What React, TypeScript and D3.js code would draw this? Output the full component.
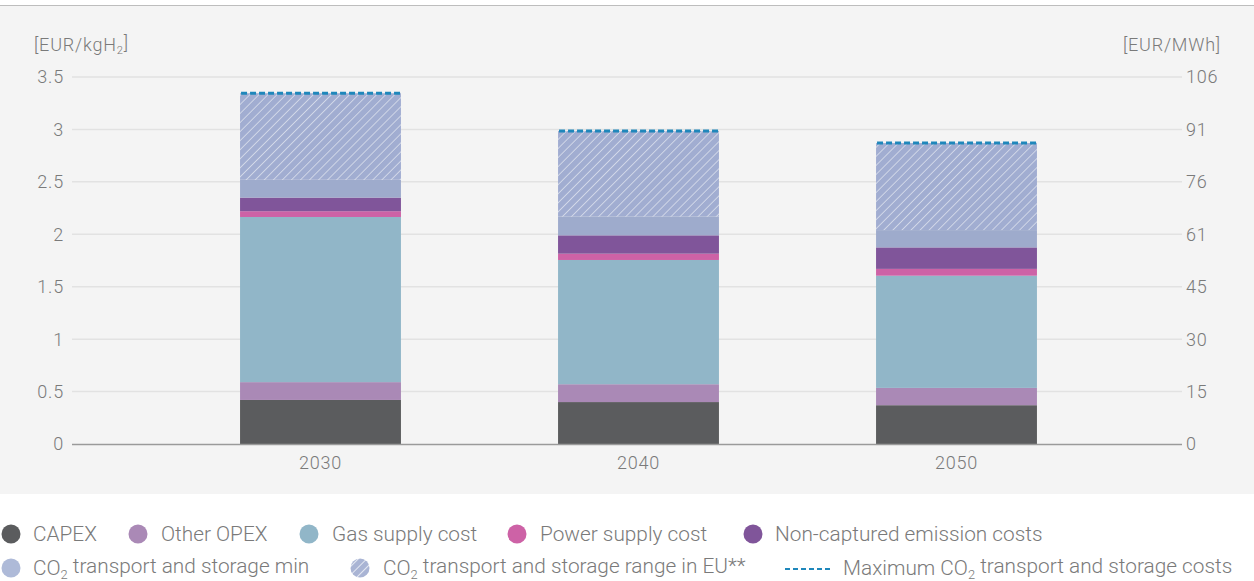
import React from 'react';
import * as d3 from 'd3';

// values in EUR/kgH2
const years = ['2030', '2040', '2050'];
const capex = [0.42, 0.40, 0.37];
const otherOpex = [0.17, 0.17, 0.165];
const gasSupply = [1.575, 1.185, 1.07];
const powerSupply = [0.055, 0.06, 0.065];
const nonCaptured = [0.13, 0.175, 0.205];
const co2Min = [0.17, 0.18, 0.165];
const co2Range = [0.825, 0.815, 0.83];

const leftTicks = [0, 0.5, 1, 1.5, 2, 2.5, 3, 3.5];
const rightTickLabels = ['0', '15', '30', '45', '61', '76', '91', '106'];

const seriesKeys = ['capex', 'otherOpex', 'gasSupply', 'powerSupply', 'nonCaptured', 'co2Min', 'co2Range'];
const seriesColors: Record<string, string> = {
  capex: '#5b5c5e',
  otherOpex: '#aa89b6',
  gasSupply: '#91b6c8',
  powerSupply: '#cd62a6',
  nonCaptured: '#80559a',
  co2Min: '#9eabcc',
  co2Range: 'url(#hatch)',
};

const rows = years.map((y, i) => ({
  year: y,
  capex: capex[i],
  otherOpex: otherOpex[i],
  gasSupply: gasSupply[i],
  powerSupply: powerSupply[i],
  nonCaptured: nonCaptured[i],
  co2Min: co2Min[i],
  co2Range: co2Range[i],
}));

const W = 1254;
const H = 581;
const font = 'Roboto, "Open Sans", sans-serif';
const textColor = '#7a7a7a';
const axisSize = 18;
const legendSize = 20.8;

function Sub({ children }: { children: React.ReactNode }) {
  return <tspan fontSize="0.62em" dy="0.3em">{children}</tspan>;
}

export default function App() {
  const x = d3.scaleBand<string>()
    .domain(years)
    .range([161.5, 1115.5])
    .paddingInner(0.494)
    .paddingOuter(0.247);

  const y = d3.scaleLinear().domain([0, 3.5]).range([444, 77]);

  const stacked = d3.stack<any>().keys(seriesKeys)(rows);

  const maxLine = rows.map((r) => seriesKeys.reduce((s, k) => s + (r as any)[k], 0));

  const legend1 = [
    { label: 'CAPEX', color: seriesColors.capex, cx: 11, tx: 33 },
    { label: 'Other OPEX', color: seriesColors.otherOpex, cx: 138, tx: 161 },
    { label: 'Gas supply cost', color: seriesColors.gasSupply, cx: 309, tx: 332 },
    { label: 'Power supply cost', color: seriesColors.powerSupply, cx: 517, tx: 540 },
    { label: 'Non-captured emission costs', color: seriesColors.nonCaptured, cx: 753, tx: 775 },
  ];

  const axisText = { fontSize: axisSize, fill: textColor, fontWeight: 300, letterSpacing: 0.8 } as const;
  const legendText = { fontSize: legendSize, fill: textColor, fontWeight: 300 } as const;

  return (
    <svg width={W} height={H} style={{ position: 'absolute', left: 0, top: 0, fontFamily: font }}>
      <defs>
        <pattern id="hatch" patternUnits="userSpaceOnUse" width="6.4" height="6.4" patternTransform="rotate(45)">
          <rect width="6.4" height="6.4" fill="#a1add1" />
          <line x1="0" y1="0" x2="0" y2="6.4" stroke="#d9deec" strokeWidth="1.6" />
        </pattern>
        <pattern id="hatchLegend" patternUnits="userSpaceOnUse" width="6" height="6" patternTransform="rotate(45)">
          <rect width="6" height="6" fill="#a9b4d4" />
          <line x1="0" y1="0" x2="0" y2="6" stroke="#e4e8f2" strokeWidth="2" />
        </pattern>
      </defs>
      <rect x={0} y={0} width={W} height={H} fill="#ffffff" />
      <rect x={0} y={5} width={W} height={489} fill="#f4f4f4" />
      <line x1={0} x2={W} y1={5.5} y2={5.5} stroke="#bdbdbd" strokeWidth={1} />

      {/* grid */}
      {leftTicks.filter((t) => t > 0).map((t) => (
        <line key={t} x1={72} x2={1182} y1={y(t)} y2={y(t)} stroke="#e2e2e2" strokeWidth={1.5} />
      ))}

      {/* bars */}
      {stacked.map((layer) => (
        <g key={layer.key} fill={seriesColors[layer.key]}>
          {layer.map((d, i) => (
            <rect
              key={i}
              x={x(years[i])}
              width={x.bandwidth()}
              y={y(d[1])}
              height={y(d[0]) - y(d[1])}
            />
          ))}
        </g>
      ))}

      {/* maximum line */}
      {maxLine.map((m, i) => (
        <line
          key={i}
          x1={(x(years[i]) as number) + 1}
          x2={(x(years[i]) as number) + x.bandwidth()}
          y1={y(m)}
          y2={y(m)}
          stroke="#1f87bb"
          strokeWidth={3}
          strokeDasharray="6 3"
        />
      ))}

      {/* baseline */}
      <line x1={72} x2={1182} y1={y(0) + 0.5} y2={y(0) + 0.5} stroke="#9a9a9a" strokeWidth={1.5} />

      {/* left axis */}
      {leftTicks.map((t) => (
        <text key={t} x={64} y={y(t)} dy="0.36em" textAnchor="end" {...axisText}>
          {String(t)}
        </text>
      ))}
      {/* right axis */}
      {leftTicks.map((t, i) => (
        <text key={t} x={1186} y={y(t)} dy="0.36em" textAnchor="start" {...axisText}>
          {rightTickLabels[i]}
        </text>
      ))}

      <text x={34} y={51} {...axisText}>
        [EUR/kgH<Sub>2</Sub><tspan dy="-0.3em">]</tspan>
      </text>
      <text x={1221} y={51} textAnchor="end" {...axisText}>
        [EUR/MWh]
      </text>

      {/* x axis */}
      {years.map((yr) => (
        <text key={yr} x={(x(yr) as number) + x.bandwidth() / 2} y={469} textAnchor="middle" {...axisText}>
          {yr}
        </text>
      ))}

      {/* legend row 1 */}
      {legend1.map((l) => (
        <g key={l.label}>
          <circle cx={l.cx} cy={534} r={9.5} fill={l.color} />
          <text x={l.tx} y={534} dy="0.36em" {...legendText}>{l.label}</text>
        </g>
      ))}

      {/* legend row 2 */}
      <circle cx={11} cy={568} r={9.5} fill="#aebad8" />
      <text x={33} y={568} dy="0.36em" {...legendText}>
        CO<Sub>2</Sub><tspan dy="-0.3em"> transport and storage min</tspan>
      </text>
      <circle cx={360} cy={568} r={9.5} fill="url(#hatchLegend)" />
      <text x={383} y={568} dy="0.36em" {...legendText}>
        CO<Sub>2</Sub><tspan dy="-0.3em"> transport and storage range in EU**</tspan>
      </text>
      <line x1={785} x2={832} y1={569} y2={569} stroke="#1f87bb" strokeWidth={2} strokeDasharray="5 3" />
      <text x={843} y={568} dy="0.36em" {...legendText}>
        Maximum CO<Sub>2</Sub><tspan dy="-0.3em"> transport and storage costs</tspan>
      </text>
    </svg>
  );
}
